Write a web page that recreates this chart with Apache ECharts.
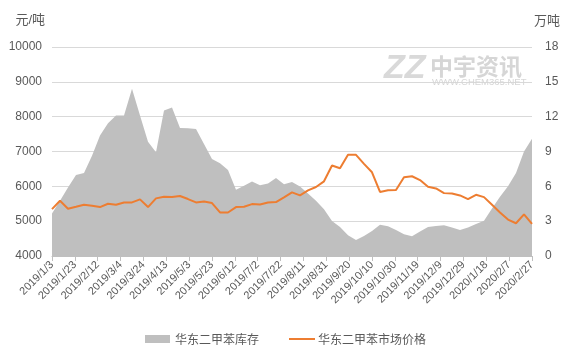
<!DOCTYPE html>
<html>
<head>
<meta charset="utf-8">
<script src="https://cdn.jsdelivr.net/npm/echarts@6/dist/echarts.min.js"></script>
<style>
html,body{margin:0;padding:0;background:#fff;}
#c{width:568px;height:358px;}
</style>
</head>
<body>
<div id="c"></div>
<script>
// x tick labels (every 20 days from 2019/1/3)
const tickLabels = ['2019/1/3','2019/1/23','2019/2/12','2019/3/4','2019/3/24','2019/4/13','2019/5/3','2019/5/23','2019/6/12','2019/7/2','2019/7/22','2019/8/11','2019/8/31','2019/9/20','2019/10/10','2019/10/30','2019/11/19','2019/12/9','2019/12/29','2020/1/18','2020/2/7','2020/2/27'];
// weekly observations, day offset from 2019/1/3 = index * 7
const stockName = '华东二甲苯库存';
const priceName = '华东二甲苯市场价格';
const stock = [3.66,4.75,5.9,6.97,7.14,8.64,10.37,11.43,12.1,12.1,14.4,12.1,9.85,8.93,12.53,12.78,11.03,11.0,10.94,9.65,8.35,7.98,7.4,5.7,6.05,6.42,6.1,6.25,6.71,6.19,6.37,5.99,5.39,4.75,4.03,3.02,2.5,1.78,1.38,1.73,2.16,2.7,2.57,2.23,1.88,1.7,2.1,2.5,2.58,2.64,2.46,2.23,2.46,2.75,3.03,4.1,5.1,6.0,7.15,9.0,10.1];
const price = [5346,5587,5356,5413,5471,5442,5404,5500,5471,5538,5538,5625,5404,5654,5702,5692,5721,5635,5538,5567,5519,5250,5250,5404,5413,5490,5480,5538,5548,5683,5827,5740,5885,5981,6144,6596,6519,6904,6904,6644,6404,5840,5885,5894,6260,6290,6180,5990,5940,5805,5795,5738,5633,5757,5690,5470,5248,5046,4941,5196,4922];
const dayStep = 7;

const font = '"Liberation Sans","Noto Sans CJK SC",sans-serif';
const cjk = '"Noto Sans CJK SC",sans-serif';
const chart = echarts.init(document.getElementById('c'));
chart.setOption({
  animation: false,
  textStyle: {fontFamily: font},
  grid: {left: 52, right: 36, top: 47, bottom: 102},
  legend: [{
    left: 140, top: 328, itemWidth: 25, itemHeight: 8,
    textStyle: {fontSize: 12, color: '#595959', fontFamily: cjk},
    data: [{name: stockName, icon: 'rect'}]
  }, {
    left: 284, top: 328, itemWidth: 26, itemHeight: 2,
    textStyle: {fontSize: 12, color: '#595959', fontFamily: cjk, padding: [0, 0, 0, -2]},
    data: [{name: priceName, icon: 'rect'}]
  }],
  xAxis: {
    type: 'value', min: 0, max: (tickLabels.length - 1) * 20, interval: 20,
    axisLine: {lineStyle: {color: '#bfbfbf'}},
    axisTick: {length: 5, lineStyle: {color: '#bfbfbf'}},
    splitLine: {show: false},
    axisLabel: {
      rotate: 45, fontSize: 11, color: '#595959', margin: 7, hideOverlap: false,
      formatter: v => tickLabels[Math.round(v / 20)]
    }
  },
  yAxis: [{
    type: 'value', min: 4000, max: 10000, interval: 1000,
    name: '元/吨', nameGap: 20,
    nameTextStyle: {fontSize: 13, color: '#595959', align: 'right', padding: [0, 7, 0, 0], fontFamily: font},
    axisLine: {show: false}, axisTick: {show: false},
    axisLabel: {fontSize: 12, color: '#595959', margin: 10, formatter: v => String(v)},
    splitLine: {lineStyle: {color: '#d9d9d9'}}
  }, {
    type: 'value', min: 0, max: 18, interval: 3,
    name: '万吨', nameGap: 20,
    nameTextStyle: {fontSize: 13, color: '#595959', align: 'left', padding: [0, 0, 0, 2], fontFamily: cjk},
    axisLine: {show: false}, axisTick: {show: false},
    axisLabel: {fontSize: 12, color: '#595959', margin: 13},
    splitLine: {show: false}
  }],
  graphic: [
    {type: 'text', left: 384, top: 52, z: 100, style: {text: 'ZZ', fontSize: 34, fontWeight: 'bold', fontStyle: 'italic', fill: '#d9d9d9', fontFamily: font}},
    {type: 'text', left: 430, top: 55, z: 100, style: {text: '中宇资讯', fontSize: 23, fontWeight: 'bold', fill: '#d6d6d6', fontFamily: cjk}},
    {type: 'text', left: 432, top: 78, z: 100, style: {text: 'WWW.CHEM365.NET', fontSize: 9.5, fill: '#d6d6d6', fontFamily: font}}
  ],
  series: [{
    name: stockName, type: 'line', yAxisIndex: 1, symbol: 'none',
    data: stock.map((v, i) => [i * dayStep, v]),
    lineStyle: {width: 0}, itemStyle: {color: '#bfbfbf'},
    areaStyle: {color: '#bfbfbf', opacity: 1}, z: 1
  }, {
    name: priceName, type: 'line', yAxisIndex: 0, symbol: 'none',
    data: price.map((v, i) => [i * dayStep, v]),
    lineStyle: {width: 2, color: '#ed7d31'}, itemStyle: {color: '#ed7d31'}, z: 3
  }]
});
</script>
</body>
</html>
